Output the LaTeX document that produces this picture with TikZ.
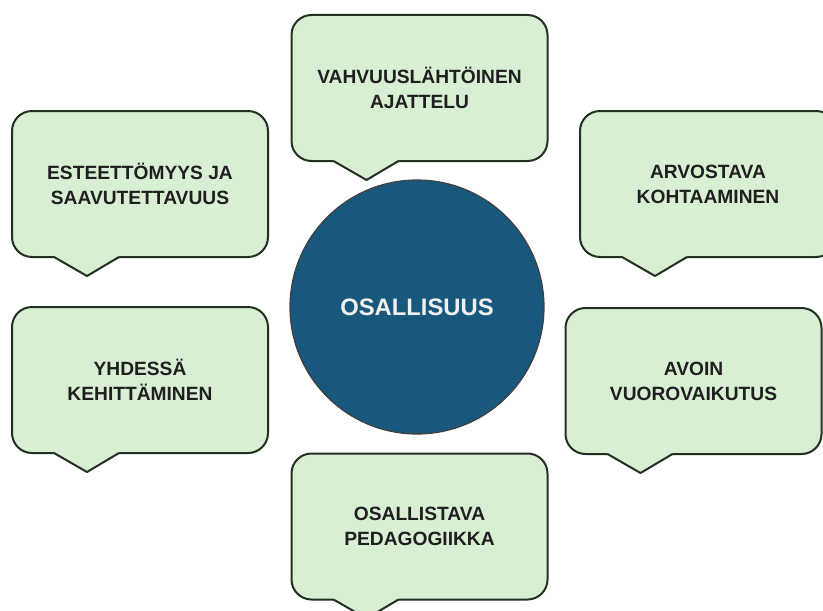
\documentclass[tikz,border=0pt]{standalone}
\usepackage{fontspec}
\setmainfont{Liberation Sans}
\definecolor{bubblegreen}{RGB}{217,239,211}
\definecolor{bubbleline}{RGB}{34,48,34}
\definecolor{corenavy}{RGB}{24,88,124}

\begin{document}
\begin{tikzpicture}[x=0.5pt, y=-0.5pt]
\tikzstyle{bubble} = [rectangle, rounded corners=10pt, minimum width=128pt, minimum height=73pt, outer sep=0pt, align=center, draw=bubbleline, line width=1pt, fill=bubblegreen, text=black!88, font=\fontsize{9.6}{12.5}\selectfont\bfseries]
\tikzstyle{core} = [circle, minimum size=127pt, outer sep=0pt, draw=black!75, line width=0.6pt, fill=corenavy, text=white!94!black, font=\fontsize{11.9}{14}\selectfont\bfseries]
\tikzstyle{tailfill} = [fill=bubblegreen]
\tikzstyle{tailline} = [draw=bubbleline, line width=1pt, line join=round, line cap=round]

\useasboundingbox (0,0) rectangle (823,610);

% Centre
\node[core] (osallisuus) at (417,307) {OSALLISUUS};

% Bubbles
\node[bubble] (vahvuus) at (419.5,88) {VAHVUUSLÄHTÖINEN\\AJATTELU};
\node[bubble] (esteet) at (140,184) {ESTEETTÖMYYS JA\\SAAVUTETTAVUUS};
\node[bubble] (arvostava) at (708,184) {ARVOSTAVA\\KOHTAAMINEN};
\node[bubble] (yhdessa) at (140,380) {YHDESSÄ\\KEHITTÄMINEN};
\node[bubble] (avoin) at (693.5,381) {AVOIN\\VUOROVAIKUTUS};
\node[bubble] (osallistava) at (419.5,526.5) {OSALLISTAVA\\PEDAGOGIIKKA};

% Tails
\fill[tailfill] (vahvuus.south west) ++(41,-2) -- ++(1,2) -- ++(33,19) -- ++(32,-19) -- ++(1,-2) -- cycle;
\draw[tailline] (vahvuus.south west) ++(42,0) -- ++(33,19) -- ++(32,-19);
\fill[tailfill] (esteet.south west) ++(41,-2) -- ++(1,2) -- ++(33,19) -- ++(32,-19) -- ++(1,-2) -- cycle;
\draw[tailline] (esteet.south west) ++(42,0) -- ++(33,19) -- ++(32,-19);
\fill[tailfill] (arvostava.south west) ++(41,-2) -- ++(1,2) -- ++(33,19) -- ++(32,-19) -- ++(1,-2) -- cycle;
\draw[tailline] (arvostava.south west) ++(42,0) -- ++(33,19) -- ++(32,-19);
\fill[tailfill] (yhdessa.south west) ++(41,-2) -- ++(1,2) -- ++(33,19) -- ++(32,-19) -- ++(1,-2) -- cycle;
\draw[tailline] (yhdessa.south west) ++(42,0) -- ++(33,19) -- ++(32,-19);
\fill[tailfill] (avoin.south west) ++(41,-2) -- ++(1,2) -- ++(33,19) -- ++(32,-19) -- ++(1,-2) -- cycle;
\draw[tailline] (avoin.south west) ++(42,0) -- ++(33,19) -- ++(32,-19);
\fill[tailfill] (osallistava.south west) ++(41,-2) -- ++(1,2) -- ++(33,19) -- ++(32,-19) -- ++(1,-2) -- cycle;
\draw[tailline] (osallistava.south west) ++(42,0) -- ++(33,19) -- ++(32,-19);
\end{tikzpicture}
\end{document}
